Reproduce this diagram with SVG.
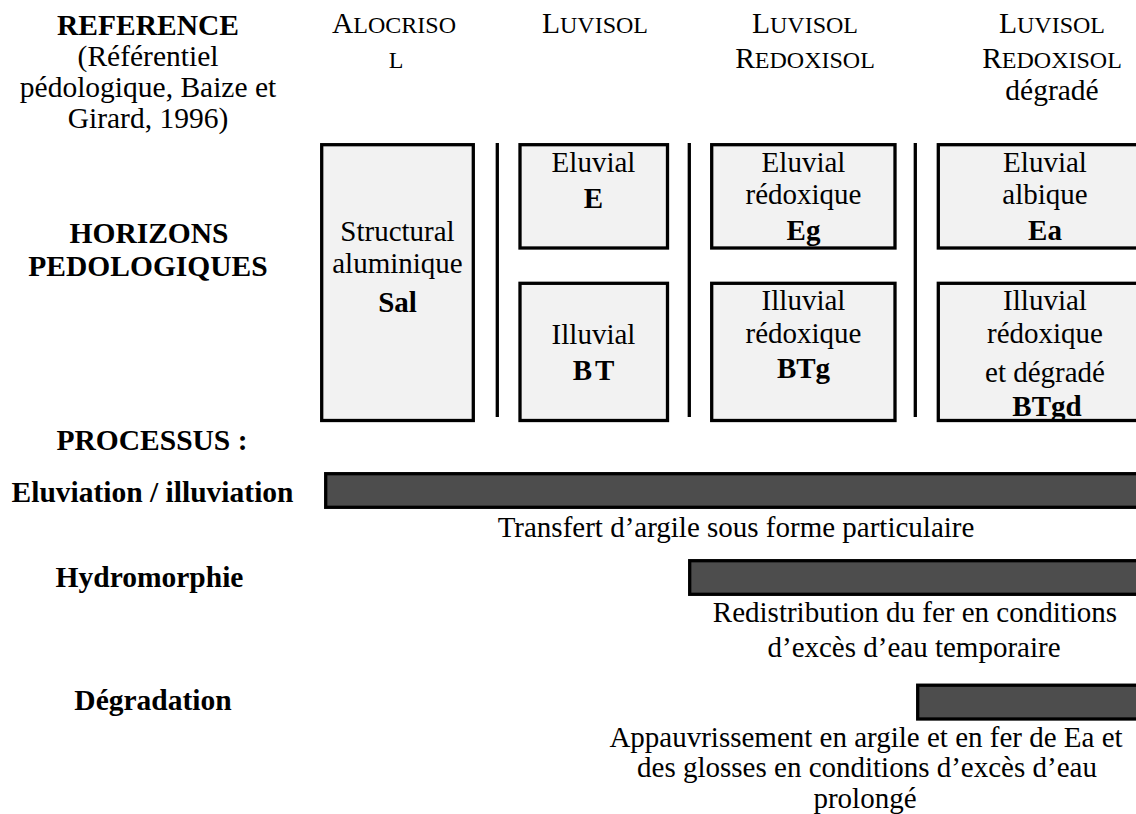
<svg xmlns="http://www.w3.org/2000/svg" width="1136" height="814" viewBox="0 0 1136 814">
<style>
text{font-family:"Liberation Serif","Times New Roman",serif;fill:#000;text-anchor:middle}
.lbl{font-size:29.5px;font-weight:bold}
.sub{font-size:29.5px}
.hd{font-size:29.5px}
.sc{font-size:24px}
.bx{font-size:29px}
.b{font-weight:bold}
.box{fill:#f2f2f2;stroke:#000;stroke-width:3.3}
.bar{fill:#4d4d4d;stroke:#000;stroke-width:3.3}
.div{stroke:#000;stroke-width:3.3}
</style>
<rect width="1136" height="814" fill="#fff"/>
<g id="labels">
<text class="lbl" x="148" y="35">REFERENCE</text>
<text class="sub" x="148" y="66">(Référentiel</text>
<text class="sub" x="148" y="97">pédologique, Baize et</text>
<text class="sub" x="148" y="128">Girard, 1996)</text>
<text class="lbl" x="149" y="243">HORIZONS</text>
<text class="lbl" x="148" y="276">PEDOLOGIQUES</text>
<text class="lbl" x="152" y="450">PROCESSUS :</text>
<text class="lbl" x="152.5" y="502">Eluviation / illuviation</text>
<text class="lbl" x="149.5" y="587">Hydromorphie</text>
<text class="lbl" x="153" y="710">Dégradation</text>
</g>
<g id="headers">
<text class="hd" x="394" y="33">A<tspan class="sc">LOCRISO</tspan></text>
<text class="sc" x="396" y="68">L</text>
<text class="hd" x="595" y="33">L<tspan class="sc">UVISOL</tspan></text>
<text class="hd" x="805" y="33">L<tspan class="sc">UVISOL</tspan></text>
<text class="hd" x="805" y="68">R<tspan class="sc">EDOXISOL</tspan></text>
<text class="hd" x="1052" y="33">L<tspan class="sc">UVISOL</tspan></text>
<text class="hd" x="1052" y="68">R<tspan class="sc">EDOXISOL</tspan></text>
<text class="hd" x="1052" y="100">dégradé</text>
</g>
<g id="dividers">
<line class="div" x1="497.3" y1="143" x2="497.3" y2="417"/>
<line class="div" x1="689.3" y1="143" x2="689.3" y2="417"/>
<line class="div" x1="915.3" y1="143" x2="915.3" y2="417"/>
</g>
<g id="node-sal">
<rect class="box" x="321.7" y="144.7" width="151.6" height="275.8"/>
<text class="bx" x="397.5" y="240.5">Structural</text>
<text class="bx" x="397.5" y="272.5">aluminique</text>
<text class="bx b" x="397.5" y="311.5">Sal</text>
</g>
<g id="node-e">
<rect class="box" x="520" y="144.7" width="147.5" height="103.3"/>
<text class="bx" x="593.5" y="172">Eluvial</text>
<text class="bx b" x="593.5" y="208">E</text>
</g>
<g id="node-bt">
<rect class="box" x="520" y="283.3" width="147.5" height="137.2"/>
<text class="bx" x="593.5" y="344">Illuvial</text>
<text class="bx b" x="595" y="380" letter-spacing="3">BT</text>
</g>
<g id="node-eg">
<rect class="box" x="711.7" y="144.7" width="183.3" height="103.3"/>
<text class="bx" x="803.5" y="172">Eluvial</text>
<text class="bx" x="803.5" y="204">rédoxique</text>
<text class="bx b" x="803.5" y="240">Eg</text>
</g>
<g id="node-btg">
<rect class="box" x="711.7" y="283.3" width="183.3" height="137.2"/>
<text class="bx" x="803.5" y="310">Illuvial</text>
<text class="bx" x="803.5" y="343">rédoxique</text>
<text class="bx b" x="803.5" y="378">BTg</text>
</g>
<g id="node-ea">
<rect class="box" x="938.3" y="144.7" width="210" height="103.3"/>
<text class="bx" x="1045" y="172">Eluvial</text>
<text class="bx" x="1045" y="204">albique</text>
<text class="bx b" x="1045" y="240">Ea</text>
</g>
<g id="node-btgd">
<rect class="box" x="938.3" y="283.3" width="210" height="137.2"/>
<text class="bx" x="1045" y="310">Illuvial</text>
<text class="bx" x="1045" y="343">rédoxique</text>
<text class="bx" x="1045" y="382">et dégradé</text>
<text class="bx b" x="1047" y="416">BTgd</text>
</g>
<g id="bars">
<rect class="bar" x="325.7" y="473.7" width="830" height="33.6"/>
<text class="bx" x="736" y="537">Transfert d’argile sous forme particulaire</text>
<rect class="bar" x="689.7" y="560.7" width="470" height="33.6"/>
<text class="bx" x="915" y="622">Redistribution du fer en conditions</text>
<text class="bx" x="914" y="657">d’excès d’eau temporaire</text>
<rect class="bar" x="917.7" y="685.2" width="240" height="33.8"/>
<text class="bx" x="866" y="747">Appauvrissement en argile et en fer de Ea et</text>
<text class="bx" x="867" y="777">des glosses en conditions d’excès d’eau</text>
<text class="bx" x="865" y="808">prolongé</text>
</g>
</svg>
